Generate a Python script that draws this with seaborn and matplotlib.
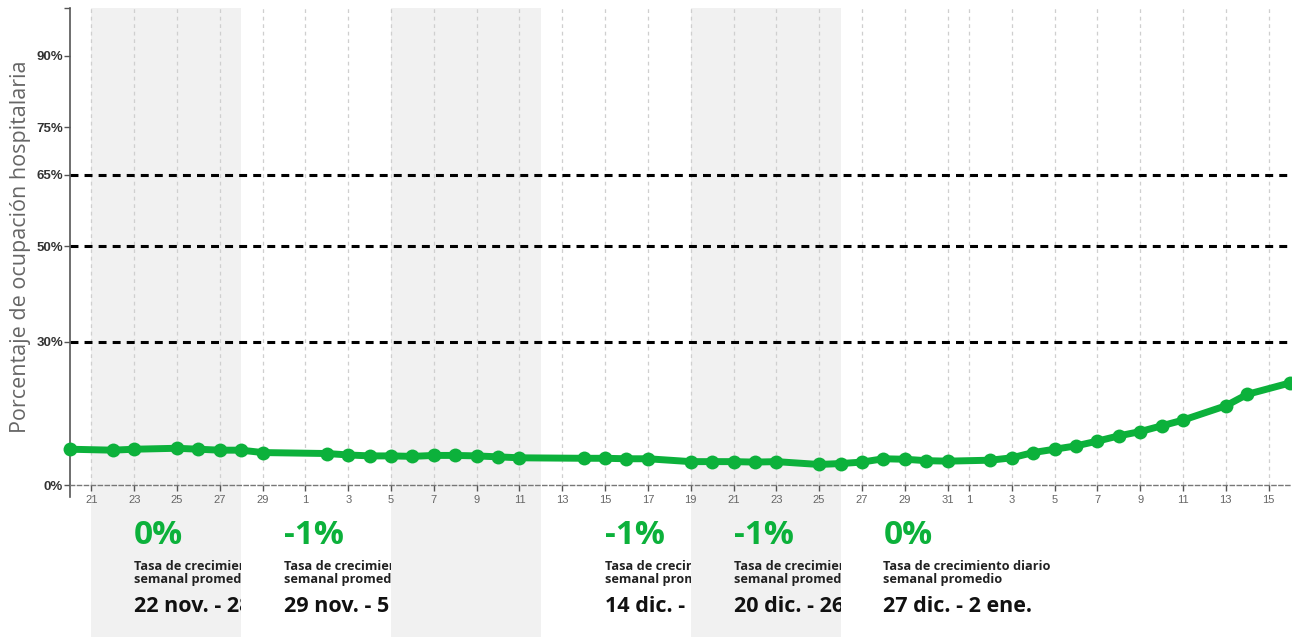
import matplotlib
matplotlib.use("Agg")
import matplotlib.pyplot as plt
import matplotlib.dates as mdates
from matplotlib.patches import Rectangle
from matplotlib.ticker import FuncFormatter
import seaborn as sns
import pandas as pd

# ---------------- data ----------------
dates = ["2021-11-20", "2021-11-22", "2021-11-23", "2021-11-25", "2021-11-26",
         "2021-11-27", "2021-11-28", "2021-11-29", "2021-12-02", "2021-12-03",
         "2021-12-04", "2021-12-05", "2021-12-06", "2021-12-07", "2021-12-08",
         "2021-12-09", "2021-12-10", "2021-12-11", "2021-12-14", "2021-12-15",
         "2021-12-16", "2021-12-17", "2021-12-19", "2021-12-20", "2021-12-21",
         "2021-12-22", "2021-12-23", "2021-12-25", "2021-12-26", "2021-12-27",
         "2021-12-28", "2021-12-29", "2021-12-30", "2021-12-31", "2022-01-02",
         "2022-01-03", "2022-01-04", "2022-01-05", "2022-01-06", "2022-01-07",
         "2022-01-08", "2022-01-09", "2022-01-10", "2022-01-11", "2022-01-13",
         "2022-01-14", "2022-01-16"]
occupancy = [7.5, 7.3, 7.5, 7.7, 7.5,
             7.3, 7.3, 6.8, 6.6, 6.3,
             6.1, 6.1, 6.0, 6.2, 6.2,
             6.1, 5.9, 5.7, 5.6, 5.6,
             5.5, 5.5, 4.9, 4.9, 4.9,
             4.8, 4.9, 4.3, 4.5, 4.8,
             5.5, 5.4, 5.1, 5.0, 5.2,
             5.7, 6.8, 7.5, 8.2, 9.2,
             10.3, 11.2, 12.4, 13.6, 16.6,
             19.0, 21.4]

y_ticks = [0, 30, 50, 65, 75, 90]
thresholds = [30, 50, 65]
x_start, x_end = "2021-11-20", "2022-01-16"

band_starts = ["2021-11-21", "2021-12-05", "2021-12-19"]
band_ends = ["2021-11-28", "2021-12-12", "2021-12-26"]

week_starts = ["2021-11-22", "2021-11-29", "2021-12-14", "2021-12-20", "2021-12-27"]
week_clip = ["2021-11-28", "2021-12-05", "2021-12-19", "2021-12-26", None]
rates = ["0%", "-1%", "-1%", "-1%", "0%"]
week_labels = ["22 nov. - 28 nov.", "29 nov. - 5 dic.", "14 dic. - 19 dic.",
               "20 dic. - 26 dic.", "27 dic. - 2 ene."]
rate_caption = "Tasa de crecimiento diario\nsemanal promedio"

df = pd.DataFrame({"fecha": pd.to_datetime(dates), "ocupacion": occupancy})

# ---------------- style ----------------
sns.set_theme(style="white")
plt.rcParams["font.family"] = ["Liberation Sans", "DejaVu Sans"]

W, H = 1292, 637
fig = plt.figure(figsize=(W / 100, H / 100), dpi=100)
ax_l, ax_r = 70 / W, 1290 / W
ax_top, ax_bot = 1 - 8 / H, 1 - 485 / H
ax = fig.add_axes([ax_l, ax_bot, ax_r - ax_l, ax_top - ax_bot])
ax2 = fig.add_axes([ax_l, 0, ax_r - ax_l, ax_bot], sharex=ax)
ax2.set_zorder(-1)
ax2.axis("off")

band_color = "#f1f1f1"
for s, e in zip(band_starts, band_ends):
    ax.axvspan(pd.Timestamp(s), pd.Timestamp(e), color=band_color, zorder=0, lw=0)
    ax2.axvspan(pd.Timestamp(s), pd.Timestamp(e), color=band_color, zorder=0, lw=0)

for t in thresholds:
    ax.axhline(t, color="black", lw=2.2, linestyle=(0, (2.6, 2.0)), zorder=2)

green = "#0cb13b"
sns.lineplot(data=df, x="fecha", y="ocupacion", ax=ax, color=green, lw=5,
             marker="o", markersize=10, markeredgewidth=0, zorder=5, clip_on=False)

ax.set_xlim(pd.Timestamp(x_start), pd.Timestamp(x_end))
ax.set_ylim(0, 100)
ax.set_yticks(y_ticks)
ax.set_yticks([100], minor=True)
ax.yaxis.set_major_formatter(FuncFormatter(lambda v, p: f"{int(v)}%"))
ax.xaxis.set_major_locator(mdates.DayLocator(bymonthday=range(1, 32, 2)))
ax.xaxis.set_major_formatter(FuncFormatter(lambda v, p: str(mdates.num2date(v).day)))

ax.grid(axis="x", color="#cfcfcf", linestyle=(0, (3, 3)), lw=0.9)
ax.grid(axis="y", visible=False)
for sp in ["top", "right"]:
    ax.spines[sp].set_visible(False)
ax.spines["left"].set_color("#555555")
ax.spines["left"].set_linewidth(1.2)
ax.spines["left"].set_bounds(-2.5, 100)
ax.spines["bottom"].set_color("#777777")
ax.spines["bottom"].set_linestyle((0, (3, 2)))
ax.spines["bottom"].set_linewidth(1.0)

ax.tick_params(axis="y", which="both", length=4, width=1, color="#555555",
               labelsize=9.5, labelcolor="#333333", pad=1, left=True)
ax.tick_params(axis="x", length=4, width=1, color="#555555", labelsize=8,
               labelcolor="#666666", pad=3, bottom=True)
for lab in ax.get_yticklabels():
    lab.set_fontweight("bold")

ax.set_xlabel("")
ax.set_ylabel("Porcentaje de ocupación hospitalaria", fontsize=15.5, color="#666666",
              labelpad=4, family=["Open Sans", "DejaVu Sans"])

# ---------------- annotations ----------------
tr = ax2.get_xaxis_transform()
one_day = pd.Timedelta(days=1)
fam = ["Open Sans", "DejaVu Sans"]
for ws, wc, r, wl in zip(week_starts, week_clip, rates, week_labels):
    x = pd.Timestamp(ws) + one_day
    texts = [
        ax2.text(x, 1 - (536 - 485) / 152, r, transform=tr, fontsize=24,
                 fontweight="bold", color=green, va="center", ha="left", family=fam),
        ax2.text(x, 1 - (573 - 485) / 152, rate_caption, transform=tr, fontsize=9.2,
                 fontweight="bold", color="#222222", va="center", ha="left",
                 linespacing=0.9, family=fam),
        ax2.text(x, 1 - (606 - 485) / 152, wl, transform=tr, fontsize=15.5,
                 fontweight="bold", color="#111111", va="center", ha="left", family=fam),
    ]
    if wc is not None:
        x0 = mdates.date2num(x - 2 * one_day)
        x1 = mdates.date2num(pd.Timestamp(wc))
        rect = Rectangle((x0, -1), x1 - x0, 3, transform=tr)
        for t in texts:
            t.set_clip_on(True)
            t.set_clip_path(rect)

fig.savefig("out.png", dpi=100)
